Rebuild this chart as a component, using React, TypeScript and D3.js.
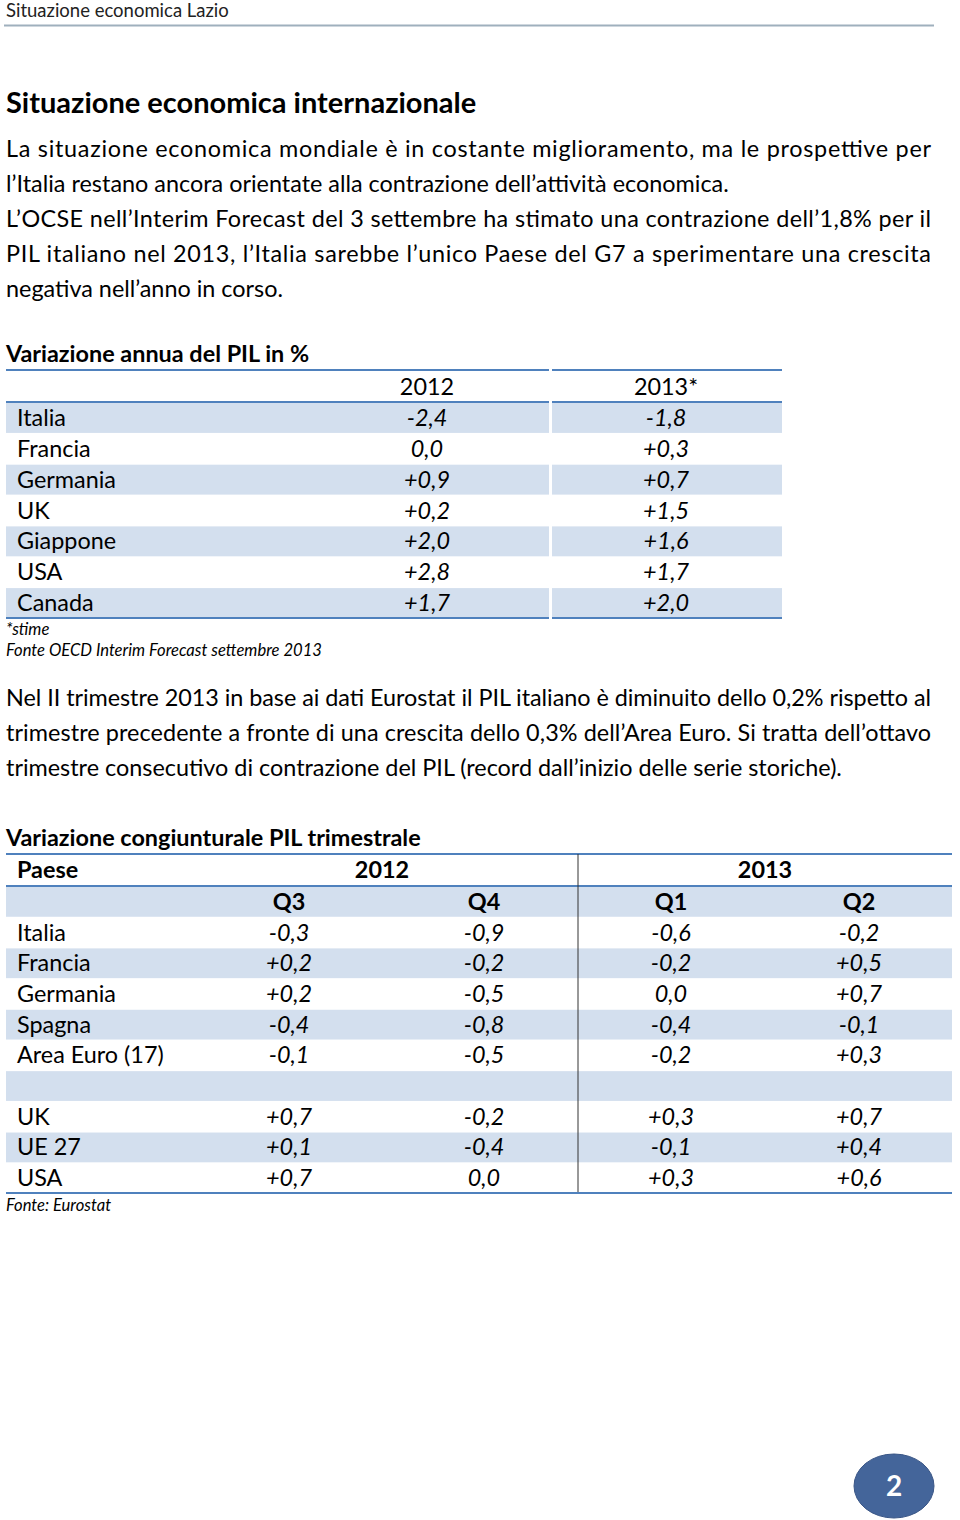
import React from "react";
import * as d3 from "d3";

// annual table
const annualCountries = ["Italia", "Francia", "Germania", "UK", "Giappone", "USA", "Canada"];
const annualYears = ["2012", "2013*"];
const annual2012 = [-2.4, 0.0, 0.9, 0.2, 2.0, 2.8, 1.7];
const annual2013 = [-1.8, 0.3, 0.7, 1.5, 1.6, 1.7, 2.0];

// quarterly table
const quarterCountries = ["Italia", "Francia", "Germania", "Spagna", "Area Euro (17)", "", "UK", "UE 27", "USA"];
const quarterLabels = ["Q3", "Q4", "Q1", "Q2"];
const quarterYears = ["2012", "2013"];
const q3_2012 = [-0.3, 0.2, 0.2, -0.4, -0.1, null, 0.7, 0.1, 0.7];
const q4_2012 = [-0.9, -0.2, -0.5, -0.8, -0.5, null, -0.2, -0.4, 0.0];
const q1_2013 = [-0.6, -0.2, 0.0, -0.4, -0.2, null, 0.3, -0.1, 0.3];
const q2_2013 = [-0.2, 0.5, 0.7, -0.1, 0.3, null, 0.7, 0.4, 0.6];

const para1 = [
  "La situazione economica mondiale è in costante miglioramento, ma le prospettive per",
  "l’Italia restano ancora orientate alla contrazione dell’attività economica.",
  "L’OCSE nell’Interim Forecast del 3 settembre ha stimato una contrazione dell’1,8% per il",
  "PIL italiano nel 2013, l’Italia sarebbe l’unico Paese del G7 a sperimentare una crescita",
  "negativa nell’anno in corso.",
];
const para1Justify = [true, false, true, true, false];
const para2 = [
  "Nel II trimestre 2013 in base ai dati Eurostat il PIL italiano è diminuito dello 0,2% rispetto al",
  "trimestre precedente a fronte di una crescita dello 0,3% dell’Area Euro. Si tratta dell’ottavo",
  "trimestre consecutivo di contrazione del PIL (record dall’inizio delle serie storiche).",
];
const para2Justify = [true, true, false];

const fmt = (v: number | null) => {
  if (v === null) return "";
  const s = Math.abs(v).toFixed(1).replace(".", ",");
  if (v > 0) return "+" + s;
  if (v < 0) return "-" + s;
  return s;
};

const FONT = "Lato, 'Open Sans', sans-serif";
const SHADE = "#d3dfee";
const RULE = "#4f81bd";
const FS = 23.4;

export default function App() {
  const W = 960;
  const H = 1520;

  // table 1 scales
  const t1Rows = d3.scaleBand<string>().domain(annualCountries).range([403, 618]).paddingInner(0.03);
  const t1Cols = d3.scalePoint<string>().domain(annualYears).range([427, 666]);
  const t1Vals = [annual2012, annual2013];

  // table 2 scales
  const t2Keys = quarterCountries.map((c, i) => `${i}-${c}`);
  const t2Rows = d3.scaleBand<string>().domain(["Q", ...t2Keys]).range([887, 1193]).paddingInner(0.03);
  const t2Cols = d3.scaleOrdinal<string, number>().domain(quarterLabels).range([289, 484, 671, 859]);
  const t2Year = d3.scaleOrdinal<string, number>().domain(quarterYears).range([382, 765]);
  const t2Vals = [q3_2012, q4_2012, q1_2013, q2_2013];

  const lineGap = 35;

  return (
    <svg width={W} height={H} style={{ position: "absolute", left: 0, top: 0, background: "#fff" }} fontFamily={FONT}>
      <rect width={W} height={H} fill="#fff" />
      {/* page header */}
      <text x={6} y={17} fontSize={18.5} fill="#222">Situazione economica Lazio</text>
      <line x1={4} x2={934} y1={25.5} y2={25.5} stroke="#9fb0bd" strokeWidth={2} />

      <text x={6} y={113} fontSize={29} fontWeight="bold" fill="#000">Situazione economica internazionale</text>

      {para1.map((t, i) => (
        <text key={t} x={6} y={157 + i * lineGap} fontSize={FS} fill="#000"
          {...(para1Justify[i] ? { textLength: 925, lengthAdjust: "spacing" } : {})}>{t}</text>
      ))}

      {/* table 1 */}
      <text x={6} y={362} fontSize={FS} fontWeight="bold" fill="#000">Variazione annua del PIL in %</text>
      <line x1={6} x2={549} y1={370} y2={370} stroke={RULE} strokeWidth={2} />
      <line x1={552} x2={782} y1={370} y2={370} stroke={RULE} strokeWidth={2} />
      {annualYears.map((y) => (
        <text key={y} x={t1Cols(y)} y={395} textAnchor="middle" fontSize={FS} fill="#000">{y}</text>
      ))}
      <line x1={6} x2={549} y1={402} y2={402} stroke={RULE} strokeWidth={2} />
      <line x1={552} x2={782} y1={402} y2={402} stroke={RULE} strokeWidth={2} />
      {annualCountries.map((c, i) => {
        const y = t1Rows(c)!;
        const h = t1Rows.bandwidth();
        return (
          <g key={c}>
            {i % 2 === 0 && (
              <>
                <rect x={6} y={y} width={543} height={h} fill={SHADE} />
                <rect x={552} y={y} width={230} height={h} fill={SHADE} />
              </>
            )}
            <text x={17} y={y + h / 2 + 8} fontSize={FS} fill="#000">{c}</text>
            {annualYears.map((yr, j) => (
              <text key={yr} x={t1Cols(yr)} y={y + h / 2 + 8} textAnchor="middle" fontSize={FS}
                fontStyle="italic" fill="#000">{fmt(t1Vals[j][i])}</text>
            ))}
          </g>
        );
      })}
      <line x1={6} x2={549} y1={618} y2={618} stroke={RULE} strokeWidth={2} />
      <line x1={552} x2={782} y1={618} y2={618} stroke={RULE} strokeWidth={2} />
      <text x={6} y={635} fontSize={16.6} fontStyle="italic" fill="#000">*stime</text>
      <text x={6} y={656} fontSize={16.6} fontStyle="italic" fill="#000">Fonte OECD Interim Forecast settembre 2013</text>

      {para2.map((t, i) => (
        <text key={t} x={6} y={706 + i * lineGap} fontSize={FS} fill="#000"
          {...(para2Justify[i] ? { textLength: 925, lengthAdjust: "spacing" } : {})}>{t}</text>
      ))}

      {/* table 2 */}
      <text x={6} y={846} fontSize={FS} fontWeight="bold" fill="#000">Variazione congiunturale PIL trimestrale</text>
      <line x1={6} x2={952} y1={854} y2={854} stroke={RULE} strokeWidth={2} />
      <text x={17} y={878} fontSize={FS} fontWeight="bold" fill="#000">Paese</text>
      {quarterYears.map((y) => (
        <text key={y} x={t2Year(y)} y={878} textAnchor="middle" fontSize={FS} fontWeight="bold" fill="#000">{y}</text>
      ))}
      <line x1={6} x2={952} y1={886} y2={886} stroke={RULE} strokeWidth={2} />
      <rect x={6} y={t2Rows("Q")!} width={946} height={t2Rows.bandwidth()} fill={SHADE} />
      {quarterLabels.map((q) => (
        <text key={q} x={t2Cols(q)} y={t2Rows("Q")! + t2Rows.bandwidth() / 2 + 8} textAnchor="middle"
          fontSize={FS} fontWeight="bold" fill="#000">{q}</text>
      ))}
      {quarterCountries.map((c, i) => {
        const y = t2Rows(t2Keys[i])!;
        const h = t2Rows.bandwidth();
        return (
          <g key={t2Keys[i]}>
            {i % 2 === 1 && <rect x={6} y={y} width={946} height={h} fill={SHADE} />}
            <text x={17} y={y + h / 2 + 8} fontSize={FS} fill="#000">{c}</text>
            {quarterLabels.map((q, j) => (
              <text key={q} x={t2Cols(q)} y={y + h / 2 + 8} textAnchor="middle" fontSize={FS}
                fontStyle="italic" fill="#000">{fmt(t2Vals[j][i])}</text>
            ))}
          </g>
        );
      })}
      <line x1={578} x2={578} y1={854} y2={1193} stroke="#333" strokeWidth={1} />
      <line x1={6} x2={952} y1={1193} y2={1193} stroke={RULE} strokeWidth={2} />
      <text x={6} y={1211} fontSize={16.6} fontStyle="italic" fill="#000">Fonte: Eurostat</text>

      {/* page number */}
      <ellipse cx={894} cy={1486} rx={40} ry={32} fill="#44659a" stroke="#3a5686" strokeWidth={1} />
      <text x={894} y={1496} textAnchor="middle" fontSize={28} fontWeight="bold" fill="#fff">2</text>
    </svg>
  );
}
